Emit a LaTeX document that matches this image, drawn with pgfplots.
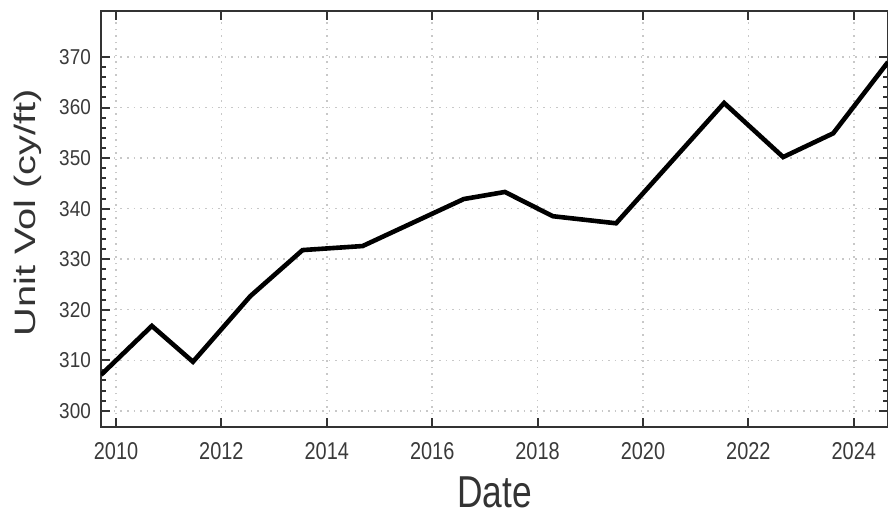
\documentclass[border=0pt]{standalone}
\usepackage{pgfplots}
\pgfplotsset{compat=1.18}
\usepackage{fontspec}
\setmainfont{Liberation Sans}
\newfontfamily\xtf{Liberation Sans}[FakeStretch=0.82]
\newfontfamily\ytf{Liberation Sans}[FakeStretch=0.88]
\newfontfamily\datef{Liberation Sans}[FakeStretch=0.79]
\newfontfamily\ylf{Liberation Sans}[FakeStretch=1.35]
\definecolor{ax}{HTML}{333333}
\definecolor{tl}{HTML}{3A3A3A}
\definecolor{gr}{HTML}{C8C8C8}
\begin{document}
\begin{tikzpicture}
\useasboundingbox (-101pt,-89pt) rectangle (787pt,427pt);
\begin{axis}[
  at={(0,0)}, anchor=south west,
  scale only axis, width=787pt, height=416pt,
  xmin=2009.715, xmax=2024.65,
  ymin=296.8, ymax=379.1,
  xtick={2010,2012,...,2024},
  ytick={300,310,...,370},
  minor y tick num=4,
  minor x tick num=0,
  tick align=inside,
  major tick length=9pt, minor tick length=5pt,
  every tick/.style={line width=2pt, color=ax},
  axis line style={line width=2.4pt, color=ax},
  grid=major,
  major grid style={dash pattern=on 1.5pt off 5pt, line width=1.5pt, color=gr},
  /pgf/number format/assume math mode=true,
  /pgf/number format/1000 sep={},
  xticklabel style={font=\xtf\fontsize{24.3}{25}\selectfont, color=tl, inner sep=0pt, yshift=-15pt},
  yticklabel style={font=\ytf\fontsize{21.5}{22}\selectfont, color=tl, inner sep=0pt, xshift=-10pt},
  xlabel={Date},
  ylabel={Unit Vol (cy/ft)},
  xlabel style={font=\datef\fontsize{44.7}{46}\selectfont, color=ax, at={(axis description cs:0.5,-0.1947)}, anchor=base},
  ylabel style={font=\ylf\fontsize{29.5}{30}\selectfont, color=ax, at={(axis description cs:-0.0934,0.515)}, anchor=center},
]
\addplot[black, line width=4.6pt] coordinates {
(2009.715,307.1)
(2010.68,316.8)
(2011.46,309.7)
(2012.55,322.7)
(2013.54,331.8)
(2014.68,332.6)
(2016.6,341.9)
(2017.38,343.3)
(2018.29,338.5)
(2019.49,337.1)
(2021.54,360.9)
(2022.66,350.2)
(2023.61,354.9)
(2024.65,369.0)
};
\end{axis}
\end{tikzpicture}
\end{document}
